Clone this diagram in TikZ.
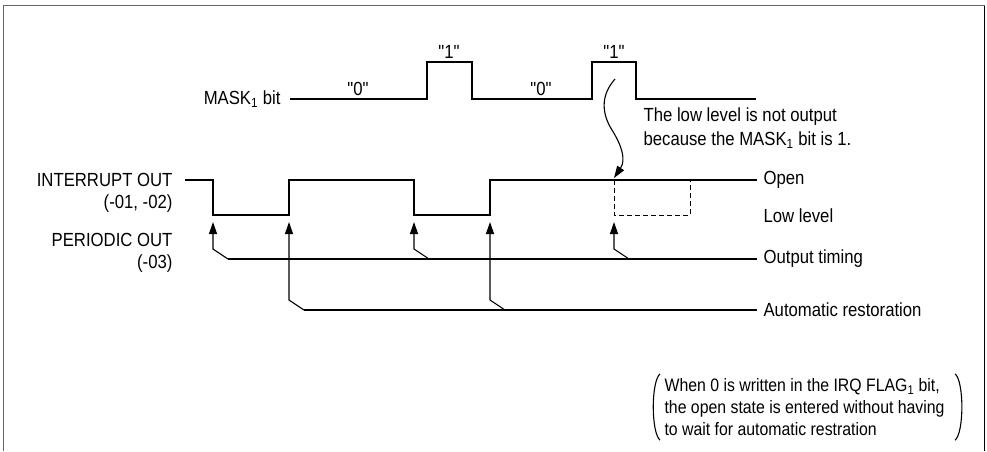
\documentclass[tikz,border=0pt]{standalone}
\usepackage{fontspec}
\setmainfont{Liberation Sans}[Ligatures=TeXOff,FakeStretch=0.88]
\usetikzlibrary{arrows.meta}
\begin{document}
\begin{tikzpicture}[x=1pt,y=-1pt,line width=1.1pt,
    lbl/.style={font=\fontsize{19}{22}\selectfont,inner sep=0pt},
    tip/.style={-{Triangle[length=12pt,width=8pt]}}]
    \useasboundingbox (0,0) rectangle (987,451);
    \draw[line width=1.6pt,black!60] (3.5,451) -- (3.5,5.5) -- (984.5,5.5);
    \draw[line width=1.6pt] (984.5,5.5) -- (984.5,451);
    \node[lbl,anchor=east] (mask) at (281,99) {MASK\textsubscript{1} bit};
    \coordinate (m0) at (290,99);
    \draw (m0) -- (427,99) -- (427,62) -- (472,62) -- (472,99) -- (592,99) -- (592,62) -- (636,62) -- (636,99) -- (756,99);
    \foreach \x/\v in {358/0,449/1,541/0,614/1} {
        \node[lbl,anchor=south] (b\x) at (\x,\ifnum\v=0 96\else 59\fi) {"\v"};
    }
    \node[lbl,anchor=east] (irq) at (173,180) {INTERRUPT OUT};
    \node[lbl,anchor=east] (irqn) at (173,204) {(-01, -02)};
    \node[lbl,anchor=east] (per) at (173,240) {PERIODIC OUT};
    \node[lbl,anchor=east] (pern) at (173,264) {(-03)};
    \node[lbl,anchor=west] (open) at (763,180) {Open};
    \node[lbl,anchor=west] (low) at (763,216) {Low level};
    \node[lbl,anchor=west] (outt) at (763,259) {Output timing};
    \node[lbl,anchor=west] (auto) at (763,310) {Automatic restoration};
    \draw (185,180) -| (213,215) -| (289,180) -| (414,215) -| (490,180) -- ([xshift=-6pt]open.west);
    \draw[line width=0.9pt,dash pattern=on 5pt off 3pt] (614,180) |- (690,215) -- (690,180);
    \draw ([xshift=-6pt]outt.west) -- (228,259);
    \draw ([xshift=-6pt]auto.west) -- (304,310);
    \foreach \x in {213,414,614} {
        \draw[tip] (\x+15,259) -- (\x,249) -- (\x,222);
    }
    \foreach \x in {289,490} {
        \draw[tip] (\x+15,310) -- (\x,300) -- (\x,222);
    }
    \node[lbl,anchor=west] (why) at (643,117) {The low level is not output};
    \node[lbl,anchor=west] (why2) at (643,140) {because the MASK\textsubscript{1} bit is 1.};
    \coordinate (w0) at (615,79);
    \coordinate (w1) at (614,178);
    \draw[tip] (w0) .. controls (600,96) and (602,114) .. (612,130) .. controls (622,146) and (626,160) .. (w1);
    \node[lbl,font=\fontsize{18}{22}\selectfont,align=left,anchor=west] (note) at (664,407) {When 0 is written in the IRQ FLAG\textsubscript{1} bit,\\the open state is entered without having\\to wait for automatic restration};
    \draw ([xshift=-4pt,yshift=4pt]note.north west) .. controls +(-9,8) and +(-9,-8) .. ([xshift=-4pt,yshift=-4pt]note.south west);
    \draw ([xshift=10pt,yshift=4pt]note.north east) .. controls +(9,8) and +(9,-8) .. ([xshift=10pt,yshift=-4pt]note.south east);
\end{tikzpicture}
\end{document}
